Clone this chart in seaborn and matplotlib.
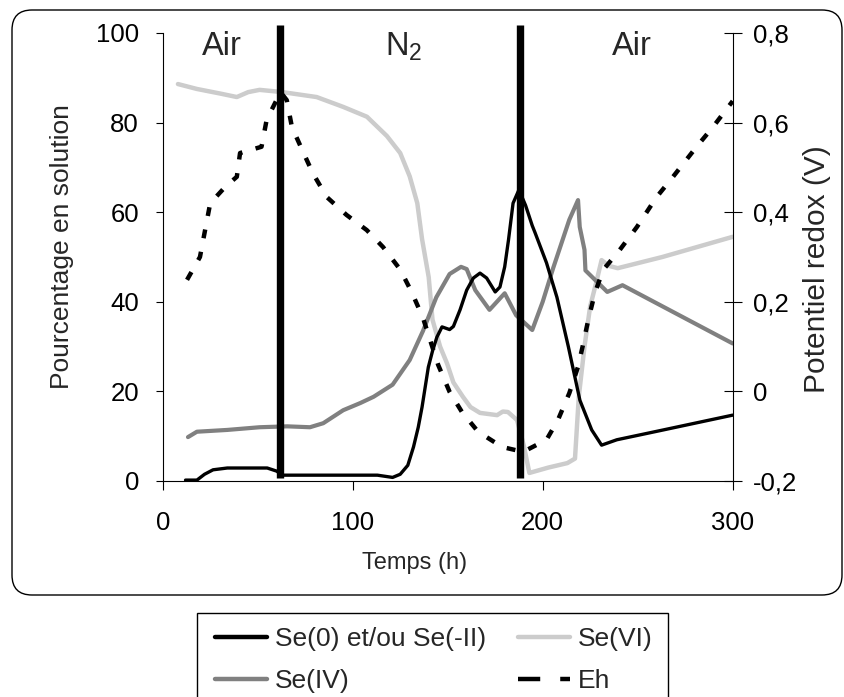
import matplotlib
matplotlib.use("Agg")
import matplotlib.pyplot as plt
import pandas as pd
import seaborn as sns
from matplotlib.lines import Line2D
from matplotlib.patches import FancyBboxPatch, Rectangle
from matplotlib.ticker import FixedLocator, FixedFormatter

# ---- Time series (hours) and percentages in solution ----
t_se0 = [12, 18, 22, 26.5, 34, 55, 60, 63, 113, 121, 125, 129, 132, 134.5, 136.5,
         139.8, 142, 144.3, 147, 151, 153, 156.5, 160, 163.5, 167, 170.5, 175,
         177.5, 180, 182, 184.4, 187.5, 191, 194.5, 196, 202, 207.5, 213.5,
         219.6, 225.8, 231, 239, 263.5, 300]
se0 = [0.2, 0.2, 1.5, 2.5, 2.9, 2.9, 2.2, 1.3, 1.3, 0.8, 1.5, 3.5, 7.6, 12, 16.5,
       25.4, 29, 32.1, 34.4, 33.8, 34.5, 38.2, 42.6, 45.3, 46.4, 45.3, 42.2,
       43.3, 47.8, 53.8, 62, 65, 61.5, 57, 55.4, 48.7, 41, 30,
       18, 11.4, 8, 9.2, 11.4, 14.7]

t_se4 = [13.3, 18, 34, 51, 65.5, 77.5, 84.5, 95, 104, 111, 121, 130, 137, 144,
         151, 157, 160, 164.5, 172, 180, 186, 194.5, 200, 205.5, 214, 218.6,
         219.5, 222, 222.5, 234, 242, 300]
se4 = [9.8, 11, 11.4, 12, 12.2, 12, 12.9, 15.8, 17.4, 18.8, 21.5, 27, 33.5, 41,
       46.2, 47.8, 47.3, 42.6, 38.2, 41.9, 37, 33.7, 40, 47.5, 58.3, 62.7,
       56.7, 51.6, 47, 42.2, 43.7, 30.7]

t_se6 = [8, 18, 30, 39, 45, 51, 63, 81, 95, 107.5, 118, 125, 130, 134, 136.5, 140,
         142, 146, 149.6, 153, 158, 162, 167, 176, 179, 181.7, 186.5, 190, 193,
         203, 213, 217, 219, 222, 225, 228, 231, 235, 239.5, 263, 300]
se6 = [88.6, 87.5, 86.5, 85.7, 86.8, 87.3, 86.8, 85.7, 83.5, 81.3, 77, 73.2, 68,
       62, 54, 45.5, 36, 30, 26.3, 22, 18.8, 16.5, 15.2, 14.7, 15.5, 15.4, 13.6,
       8, 1.8, 3, 4, 5, 18.8, 30, 39, 44, 49.3, 48, 47.5, 50, 54.5]

# ---- Redox potential (V) ----
t_eh = [12.8, 19.6, 25, 32.8, 39, 40.7, 52, 54.7, 62, 65.3, 68, 73.4, 79, 86.3,
        96.7, 107.4, 116, 125, 131, 137, 140.7, 145, 151, 157.5, 166, 178.6,
        189.7, 202, 208, 214, 218.6, 221, 224, 227.5, 231.8, 240.6, 249.6, 260,
        268.6, 281, 289.6, 300]
eh = [0.249, 0.30, 0.42, 0.456, 0.479, 0.532, 0.546, 0.606, 0.668, 0.65, 0.59,
      0.539, 0.487, 0.434, 0.394, 0.36, 0.322, 0.272, 0.222, 0.164, 0.115,
      0.059, -0.001, -0.046, -0.09, -0.124, -0.135, -0.108, -0.064, -0.004,
      0.055, 0.10, 0.16, 0.22, 0.271, 0.316, 0.367, 0.434, 0.479, 0.546,
      0.59, 0.648]

# Atmosphere switches (hours) and phase names
phase_change = [61.5, 188]
phase_labels = ["Air", r"$\mathregular{N_2}$", "Air"]
phase_centers = [31.3, 126.6, 247]
phase_sizes = [23.5, 23.5, 23.5]

x_ticks = [0, 100, 200, 300]
y_ticks = [0, 20, 40, 60, 80, 100]
eh_ticks = [-0.2, 0, 0.2, 0.4, 0.6, 0.8]
eh_tick_labels = ["-0,2", "0", "0,2", "0,4", "0,6", "0,8"]

series_labels = ["Se(0) et/ou Se(-II)", "Se(IV)", "Se(VI)", "Eh"]

sns.set_style("ticks")
plt.rcParams["font.family"] = ["Liberation Sans", "DejaVu Sans"]
plt.rcParams["mathtext.fontset"] = "custom"
plt.rcParams["mathtext.rm"] = "Liberation Sans"

C_SE0, C_SE4, C_SE6 = "black", "#808080", "#cccccc"

fig = plt.figure(figsize=(8.44, 6.97), dpi=100)
ax = fig.add_axes([0.1928, 0.3099, 0.6753, 0.6428])
ax2 = ax.twinx()

df0 = pd.DataFrame({"t": t_se0, "v": se0})
df4 = pd.DataFrame({"t": t_se4, "v": se4})
df6 = pd.DataFrame({"t": t_se6, "v": se6})
dfe = pd.DataFrame({"t": t_eh, "v": eh})

sns.lineplot(data=df6, x="t", y="v", ax=ax, color=C_SE6, lw=3.2,
             estimator=None, sort=False)
sns.lineplot(data=df4, x="t", y="v", ax=ax, color=C_SE4, lw=3.0,
             estimator=None, sort=False)
sns.lineplot(data=df0, x="t", y="v", ax=ax, color=C_SE0, lw=2.4,
             estimator=None, sort=False)
sns.lineplot(data=dfe, x="t", y="v", ax=ax2, color="black", lw=3.2,
             linestyle=(0, (2.0, 3.1)), dash_capstyle="butt",
             estimator=None, sort=False)

# Thick bars marking the atmosphere changes
ax2.vlines(phase_change, -0.193, 0.818, colors="black", lw=5.3,
           clip_on=False, zorder=5)

for x, lab, fs in zip(phase_centers, phase_labels, phase_sizes):
    ax.text(x, 95, lab, ha="center", va="baseline", fontsize=fs)

ax.set_xlim(0, 300)
ax.set_ylim(0, 100)
ax2.set_ylim(-0.2, 0.8)

ax.xaxis.set_major_locator(FixedLocator(x_ticks))
ax.yaxis.set_major_locator(FixedLocator(y_ticks))
ax2.yaxis.set_major_locator(FixedLocator(eh_ticks))
ax2.yaxis.set_major_formatter(FixedFormatter(eh_tick_labels))

for a in (ax, ax2):
    a.spines["top"].set_visible(False)
    for s in a.spines.values():
        s.set_linewidth(0.8)
        s.set_color("black")
ax.spines["right"].set_visible(False)
ax2.spines["left"].set_visible(False)
ax2.spines["bottom"].set_visible(False)

ax.tick_params(axis="y", direction="out", length=5, width=0.8, pad=12,
               labelsize=18.5, colors="black")
ax.tick_params(axis="x", direction="out", length=6.5, width=0.8, pad=15,
               labelsize=18.5, colors="black")
ax2.tick_params(axis="y", direction="inout", length=13, width=0.8, pad=8,
                labelsize=18.5, colors="black")

ax.set_xlabel("Temps (h)", fontsize=17)
ax.xaxis.set_label_coords(0.4426, -0.158)
ax.set_ylabel("Pourcentage en solution", fontsize=19)
ax.yaxis.set_label_coords(-0.156, 0.5234)
ax2.set_ylabel("Potentiel redox (V)", fontsize=21.5)
ax2.yaxis.set_label_coords(1.123, 0.474)

# Rounded frame around the chart area
frame = FancyBboxPatch((0.12, 1.02), 8.30, 5.85,
                       boxstyle="round,pad=0,rounding_size=0.2",
                       transform=fig.dpi_scale_trans, fill=False,
                       edgecolor="black", lw=1.0)
fig.patches.append(frame)

# Legend box
fig.patches.append(Rectangle((1.97, -0.05), 4.71, 0.89, fill=False,
                             edgecolor="black", lw=1.0,
                             transform=fig.dpi_scale_trans))

handles = [
    Line2D([], [], color=C_SE0, lw=3.2),
    Line2D([], [], color=C_SE4, lw=3.2),
    Line2D([], [], color=C_SE6, lw=3.2),
    Line2D([], [], color="black", lw=3.2, linestyle=(0, (5, 4.5)),
           dash_capstyle="butt"),
]
leg = fig.legend(handles, series_labels, loc="upper left",
                 bbox_to_anchor=(215 / 844, 1 - 627 / 697),
                 bbox_transform=fig.transFigure, ncol=2, fontsize=19,
                 frameon=False, handlelength=1.97, handletextpad=0.3,
                 columnspacing=1.2, labelspacing=0.69, borderpad=0,
                 borderaxespad=0)

fig.savefig("out.png", dpi=100)
